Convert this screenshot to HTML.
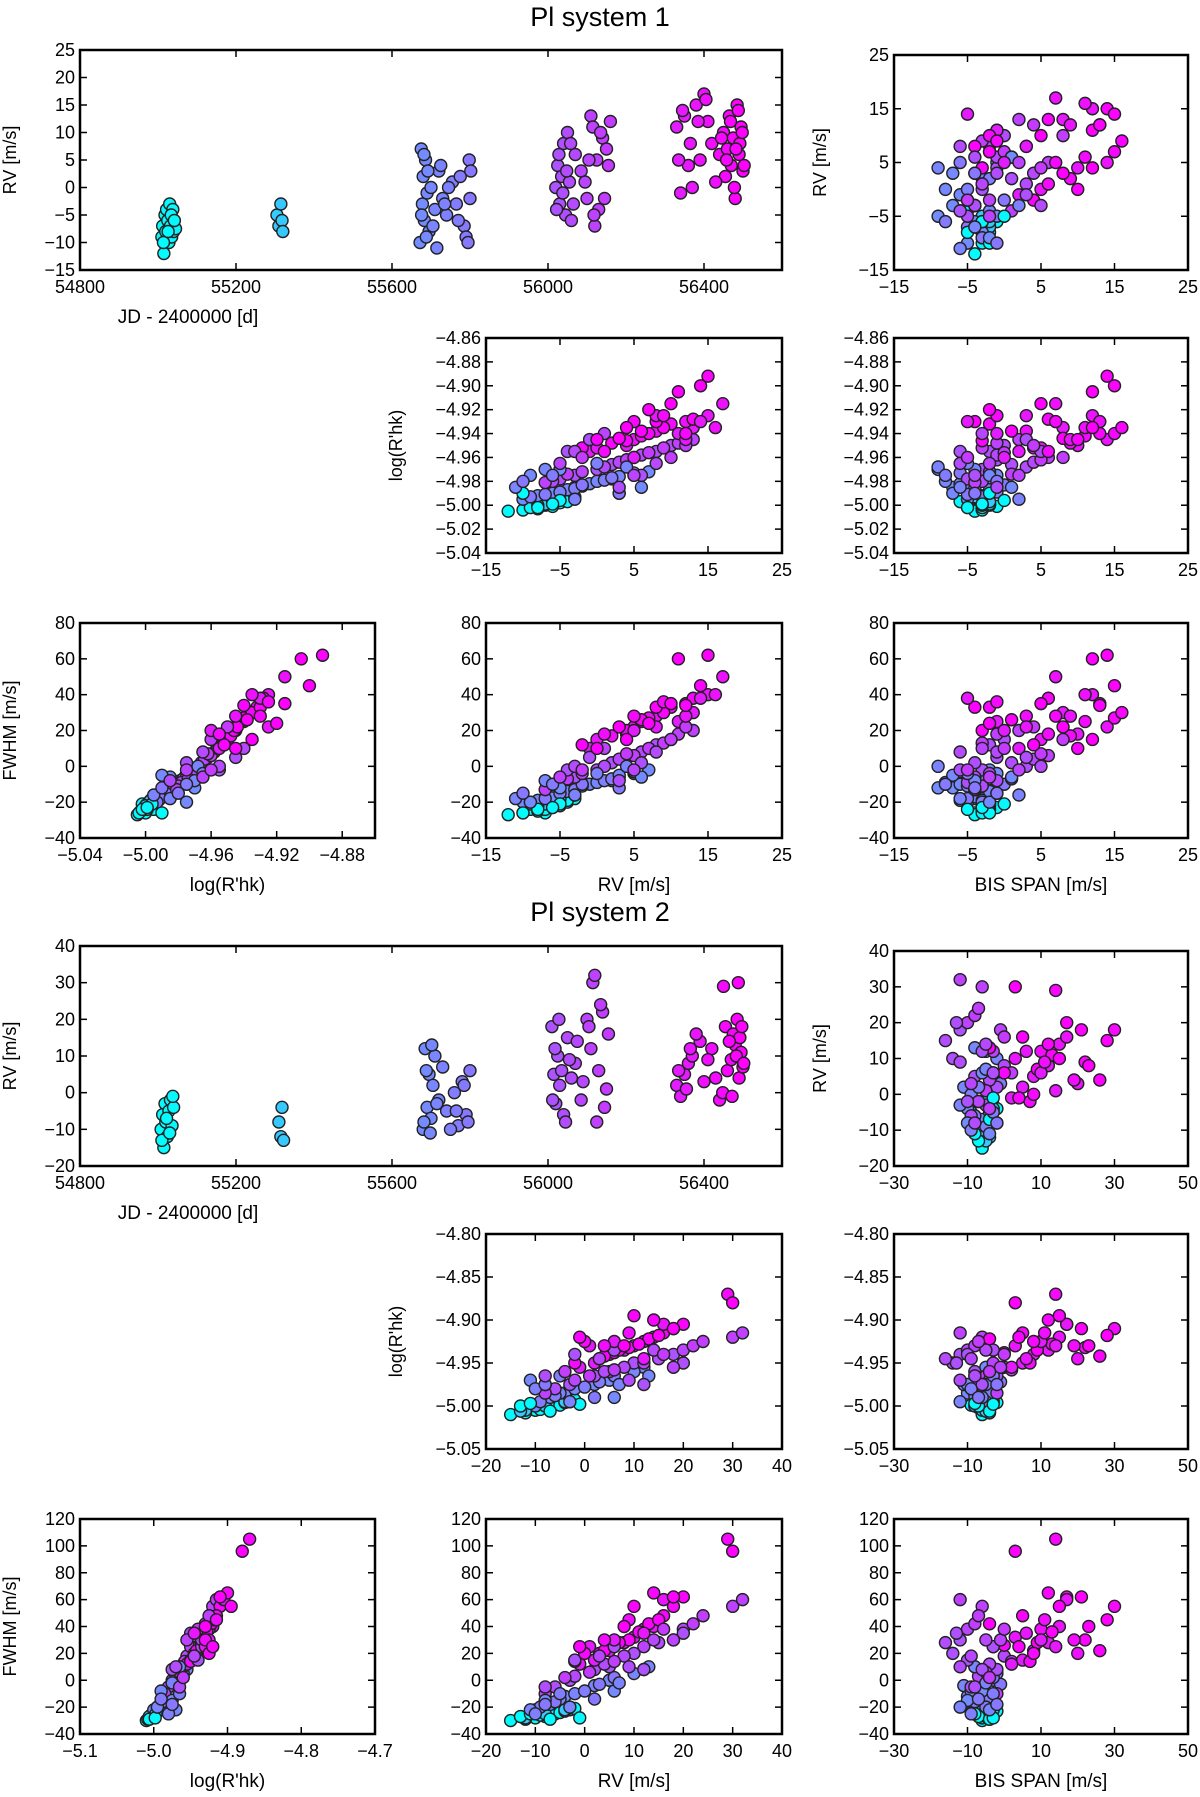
<!DOCTYPE html>
<html><head><meta charset="utf-8"><style>
body{margin:0;background:#fff}
text{font-family:"Liberation Sans",sans-serif;fill:#000}
</style></head><body>
<svg id="fig" xmlns="http://www.w3.org/2000/svg" width="1200" height="1792" viewBox="0 0 1200 1792">
<text x="600" y="26" font-size="27" text-anchor="middle">Pl system 1</text>
<text x="600" y="921" font-size="27" text-anchor="middle">Pl system 2</text>
</svg>
<script>
// System 1 observations: JD, RV, logR'hk, FWHM, BIS
const s1_jd  =[55010,55012,55015,55018,55020,55022,55025,55028,55030,55032,55035,55038,55040,55045,55305,55310,55315,55318,55320,55672,55675,55678,55680,55683,55686,55690,55695,55700,55710,55720,55730,55740,55755,55765,55775,55785,55790,55798,55800,56020,56025,56030,56035,56040,56045,56050,56055,56060,56070,56085,56100,56110,56115,56120,56125,56130,56140,56150,56155,56330,56340,56350,56360,56370,56380,56390,56400,56410,56420,56440,56450,56455,56460,56465,56470,56475,56480,56485,56490,56495,56500,56488,56492,
 55014,55026,55034,55042,55676,55682,55688,55692,55705,55715,55725,55735,55745,55770,55795,55802,56022,56028,56038,56048,56058,56065,56095,56105,56118,56135,56145,56160,56335,56345,56365,56385,56405,56430,56445,56458,56468,56478,56482,56498,56503];
const s1_rv  =[-9,-7,-12,-5,-8,-4,-6,-10,-3,-7,-9,-4,-8,-7.5,-5,-7,-3,-6,-8,-10,7,-3,2,-6,5,-1,-8,0,-4,3,-2,-5,1,-3,2,-7,-9,5,-2,0,4,-3,2,8,-5,10,1,-6,6,3,-2,13,11,-7,5,-4,9,7,4,11,-1,13,4,0,15,5,17,12,8,6,10,2,7,13,4,9,-2,15,6,11,3,14,8,
 -10,-8,-5,-6,-5,6,-9,3,-7,-11,4,-3,0,-6,-10,3,-4,6,-1,3,8,-3,1,5,-5,10,-2,12,5,14,8,12,16,1,9,5,12,0,7,10,4];
const s1_rhk =[-4.995,-5.000,-5.005,-4.998,-5.003,-4.996,-5.001,-5.004,-4.994,-4.999,-5.002,-4.997,-5.000,-4.998,-4.996,-4.999,-4.993,-4.997,-5.000,-4.995,-4.972,-4.985,-4.978,-4.990,-4.975,-4.982,-4.992,-4.980,-4.987,-4.976,-4.984,-4.989,-4.979,-4.986,-4.977,-4.991,-4.993,-4.973,-4.983,-4.970,-4.962,-4.975,-4.966,-4.955,-4.978,-4.950,-4.968,-4.980,-4.958,-4.964,-4.972,-4.945,-4.948,-4.981,-4.960,-4.974,-4.952,-4.956,-4.962,-4.940,-4.955,-4.935,-4.950,-4.952,-4.925,-4.945,-4.915,-4.930,-4.938,-4.942,-4.932,-4.948,-4.940,-4.928,-4.946,-4.935,-4.952,-4.892,-4.938,-4.905,-4.944,-4.900,-4.930,
 -4.990,-5.002,-4.996,-4.999,-4.970,-4.985,-4.975,-4.990,-4.970,-4.985,-4.968,-4.995,-4.965,-4.975,-4.980,-4.990,-4.955,-4.975,-4.945,-4.985,-4.965,-4.955,-4.940,-4.975,-4.965,-4.960,-4.960,-4.950,-4.960,-4.930,-4.925,-4.945,-4.935,-4.955,-4.925,-4.930,-4.940,-4.945,-4.920,-4.915,-4.935];
const s1_fwhm=[-24,-26,-27,-22,-25,-20,-23,-26,-18,-24,-21,-19,-22,-20,-18,-21,-16,-19,-22,-20,-2,-12,-8,-17,-4,-10,-19,-9,-14,-6,-11,-15,-8,-13,-7,-18,-20,-3,-10,-2,5,-6,2,12,-9,15,0,-11,8,4,-4,20,18,-13,6,-7,13,10,7,25,10,30,18,15,40,22,50,35,28,25,33,17,27,38,20,30,12,62,26,60,22,45,33,
 -26,-24,-21,-23,-12,-6,-20,-5,-8,-18,0,-16,-4,-10,-15,-12,-2,2,5,-8,8,0,10,-2,-6,15,-2,22,20,38,22,28,40,18,36,28,34,10,24,35,15];
const s1_bis =[-3,-4,-4,-2,-3,-5,-1,-3,-4,-2,-3,-6,-2,-3,-3,-2,-4,-2,-3,-5,-2,-7,-3,-4,-1,-6,-3,-8,-2,-4,-5,-1,-3,-4,-2,-5,-3,-6,0,-3,-1,-4,1,-2,-5,0,3,-3,-1,4,-2,2,-1,-4,6,1,-3,0,5,-1,2,8,10,5,12,14,7,13,3,11,-2,9,15,6,-3,16,4,14,1,12,8,15,-4,
 -2,-5,0,-3,-9,1,-2,-7,-4,-6,-9,2,-5,-8,-1,-4,-6,-4,3,-1,-6,5,-3,2,-2,8,-5,4,0,-5,3,9,11,6,-1,7,13,10,-2,5,12];
// System 2 observations
const s2_jd  =[55008,55012,55015,55018,55020,55024,55028,55032,55036,55040,55310,55315,55318,55322,55680,55685,55690,55695,55700,55705,55710,55720,55740,55760,55770,55780,55790,55800,56010,56015,56020,56025,56030,56040,56050,56060,56070,56085,56100,56110,56115,56120,56125,56130,56140,56150,56330,56340,56350,56360,56370,56390,56400,56420,56440,56450,56455,56460,56470,56475,56480,56485,56490,56495,56500,56488,56492,
 55010,55022,55030,55038,55682,55688,55698,55702,55715,55730,55750,55765,55785,55795,56012,56018,56028,56035,56045,56055,56075,56090,56105,56135,56145,56155,56335,56355,56365,56380,56410,56430,56448,56465,56472,56483,56497,56502];
const s2_rv  =[-10,-6,-15,-3,-8,-12,-5,-2,-9,-4,-8,-12,-4,-13,-10,12,-4,5,-7,2,10,-2,-5,0,-9,3,-6,6,18,5,-3,10,2,-6,15,4,8,-2,20,12,30,32,-8,6,22,1,2,-1,5,8,10,14,3,12,-2,29,18,6,9,16,13,20,4,11,7,30,15,
 -13,-7,-11,-1,-8,6,-11,13,-3,7,-10,-5,2,-8,-2,12,20,6,-8,9,14,3,18,24,-4,16,6,1,12,16,9,4,0,14,-1,10,18,8];
const s2_rhk =[-5.005,-4.998,-5.010,-4.995,-5.002,-5.008,-4.999,-4.993,-5.004,-4.996,-5.000,-5.005,-4.995,-5.006,-5.000,-4.955,-4.985,-4.970,-4.990,-4.975,-4.960,-4.980,-4.985,-4.978,-4.995,-4.972,-4.988,-4.965,-4.940,-4.960,-4.975,-4.950,-4.965,-4.980,-4.945,-4.960,-4.955,-4.970,-4.935,-4.950,-4.920,-4.915,-4.985,-4.958,-4.930,-4.965,-4.950,-4.955,-4.940,-4.935,-4.930,-4.920,-4.945,-4.925,-4.950,-4.870,-4.910,-4.938,-4.932,-4.915,-4.922,-4.905,-4.942,-4.928,-4.935,-4.880,-4.918,
 -5.000,-5.006,-4.997,-4.998,-4.975,-4.990,-4.970,-4.965,-4.995,-4.975,-4.980,-4.965,-4.990,-4.975,-4.940,-4.975,-4.950,-4.935,-4.965,-4.970,-4.935,-4.945,-4.955,-4.925,-4.960,-4.940,-4.925,-4.930,-4.945,-4.905,-4.915,-4.930,-4.925,-4.900,-4.920,-4.895,-4.910,-4.930];
const s2_fwhm=[-28,-25,-30,-22,-27,-29,-24,-21,-26,-23,-25,-28,-22,-27,-22,8,-12,0,-18,-4,5,-10,-14,-8,-20,-3,-16,2,30,10,0,20,8,-5,28,12,18,3,38,25,55,60,-10,14,42,6,15,12,22,28,32,40,20,38,14,105,55,26,30,48,42,62,22,36,28,96,45,
 -27,-29,-25,-28,-15,-8,-22,10,-20,-2,-25,-10,-14,-18,15,8,35,25,-5,10,30,18,30,48,2,38,30,25,35,60,45,30,20,65,25,55,62,40];
const s2_bis =[-5,-8,-6,-3,-7,-4,-9,-5,-6,-2,-4,-6,-3,-5,-8,-5,-10,-3,-6,-11,-2,-7,-4,-9,-5,-1,-8,-3,-12,-8,-5,-14,-2,-9,-16,-4,0,-7,-10,-3,-6,-12,-2,2,-8,-5,5,2,8,12,3,15,20,10,7,14,30,0,22,5,-4,17,26,13,9,3,28,
 -7,-4,-8,-3,-10,-6,-4,-8,-12,-5,-9,-3,-7,-2,-10,-6,-13,-3,-8,-12,-5,-9,-1,-7,-4,0,10,14,6,17,11,19,8,12,4,15,21,23];

const NS="http://www.w3.org/2000/svg";
const svg=document.getElementById('fig');
function mk(tag,attrs,parent){const e=document.createElementNS(NS,tag);for(const k in attrs)e.setAttribute(k,attrs[k]);(parent||svg).appendChild(e);return e;}
function col(jd){let t=(jd-55000)/1500;t=Math.max(0,Math.min(1,t));return `rgb(${Math.round(255*t)},${Math.round(255*(1-t))},255)`;}
function fmt(v,d){const s=v.toFixed(d);return s.startsWith('-')?'\u2212'+s.slice(1):s;}

function panel(name,box,xr,yr,xt,yt,xd,yd,xs,ys,jds,xlab,ylab,xlabX){
  const [L,T,R,B]=box;
  const g=mk('g',{});
  
  
  const sx=v=>L+(v-xr[0])/(xr[1]-xr[0])*(R-L);
  const sy=v=>B-(v-yr[0])/(yr[1]-yr[0])*(B-T);
  const clip='c'+name;
  const cp=mk('clipPath',{id:clip},g);mk('rect',{x:L,y:T,width:R-L,height:B-T},cp);
  const pg=mk('g',{'clip-path':`url(#${clip})`},g);
  for(let i=0;i<xs.length;i++){
    const c=mk('circle',{cx:sx(xs[i]),cy:sy(ys[i]),r:6,fill:col(jds[i]),stroke:'#222','stroke-width':1.4},pg);
    
    
  }
  mk('rect',{x:L,y:T,width:R-L,height:B-T,fill:'none',stroke:'#000','stroke-width':2.5},g);
  xt.forEach(v=>{const x=sx(v);
    mk('line',{x1:x,y1:B,x2:x,y2:B-7,stroke:'#000','stroke-width':1.5},g);
    mk('line',{x1:x,y1:T,x2:x,y2:T+7,stroke:'#000','stroke-width':1.5},g);
    const t=mk('text',{x:x,y:B+23,'font-size':18,'text-anchor':'middle'},g);t.textContent=fmt(v,xd);
    
    
  });
  yt.forEach(v=>{const y=sy(v);
    mk('line',{x1:L,y1:y,x2:L+7,y2:y,stroke:'#000','stroke-width':1.5},g);
    mk('line',{x1:R,y1:y,x2:R-7,y2:y,stroke:'#000','stroke-width':1.5},g);
    const t=mk('text',{x:L-5,y:y+6,'font-size':18,'text-anchor':'end'},g);t.textContent=fmt(v,yd);
    
    
  });
  if(xlab){const t=mk('text',{x:xlabX!==undefined?xlabX:(L+R)/2,y:B+53,'font-size':19,'text-anchor':'middle'},g);t.textContent=xlab;
    
    }
  if(ylab){const yx=ylab[1],yy=(T+B)/2;const t=mk('text',{x:yx,y:yy,'font-size':18,'text-anchor':'middle',transform:`rotate(-90 ${yx} ${yy})`},g);t.textContent=ylab[0];
    
    }
}
const rng=(a,b,s)=>{const r=[];for(let v=a;v<=b+1e-9;v+=s)r.push(+v.toFixed(4));return r;};
const LC=[80,375],MC=[486,782],RC=[894,1188],WIDE=[80,782];
function sys(p,o,jd,rv,rhk,fw,bis,cfg){
  const r1=[50+o,270+o],r2=[338+o,553+o],r3=[623+o,838+o];
  panel(p+'rv-vs-time',[WIDE[0],r1[0],WIDE[1],r1[1]],[54800,56600],cfg.rvr,[54800,55200,55600,56000,56400],cfg.rvt,0,0,jd,rv,jd,'JD - 2400000 [d]',['RV [m/s]',16],188);
  panel(p+'rv-vs-bis',[RC[0],r1[0]+5,RC[1],r1[1]],cfg.bisr,cfg.rvr,cfg.bist,cfg.rvt2,0,0,bis,rv,jd,null,['RV [m/s]',826]);
  panel(p+'rhk-vs-rv',[MC[0],r2[0],MC[1],r2[1]],cfg.rvxr,cfg.rhkr,cfg.rvxt,cfg.rhkt,0,2,rv,rhk,jd,null,["log(R'hk)",402]);
  panel(p+'rhk-vs-bis',[RC[0],r2[0],RC[1],r2[1]],cfg.bisr,cfg.rhkr,cfg.bist,cfg.rhkt,0,2,bis,rhk,jd,null,null);
  panel(p+'fwhm-vs-rhk',[LC[0],r3[0],LC[1],r3[1]],cfg.rhkxr,cfg.fwr,cfg.rhkxt,cfg.fwt,cfg.rhkxd,0,rhk,fw,jd,"log(R'hk)",['FWHM [m/s]',16]);
  panel(p+'fwhm-vs-rv',[MC[0],r3[0],MC[1],r3[1]],cfg.rvxr,cfg.fwr,cfg.rvxt,cfg.fwt,0,0,rv,fw,jd,'RV [m/s]',null);
  panel(p+'fwhm-vs-bis',[RC[0],r3[0],RC[1],r3[1]],cfg.bisr,cfg.fwr,cfg.bist,cfg.fwt,0,0,bis,fw,jd,'BIS SPAN [m/s]',null);
}
sys('s1-',0,s1_jd,s1_rv,s1_rhk,s1_fwhm,s1_bis,{
  rvr:[-15,25],rvt:rng(-15,25,5),rvt2:[-15,-5,5,15,25],
  bisr:[-15,25],bist:[-15,-5,5,15,25],
  rvxr:[-15,25],rvxt:[-15,-5,5,15,25],
  rhkr:[-5.04,-4.86],rhkt:rng(-5.04,-4.86,0.02),
  rhkxr:[-5.04,-4.86],rhkxt:[-5.04,-5.00,-4.96,-4.92,-4.88],rhkxd:2,
  fwr:[-40,80],fwt:rng(-40,80,20)});
sys('s2-',896,s2_jd,s2_rv,s2_rhk,s2_fwhm,s2_bis,{
  rvr:[-20,40],rvt:rng(-20,40,10),rvt2:rng(-20,40,10),
  bisr:[-30,50],bist:[-30,-10,10,30,50],
  rvxr:[-20,40],rvxt:rng(-20,40,10),
  rhkr:[-5.05,-4.80],rhkt:rng(-5.05,-4.80,0.05),
  rhkxr:[-5.1,-4.7],rhkxt:[-5.1,-5.0,-4.9,-4.8,-4.7],rhkxd:1,
  fwr:[-40,120],fwt:rng(-40,120,20)});
</script>
</body></html>
